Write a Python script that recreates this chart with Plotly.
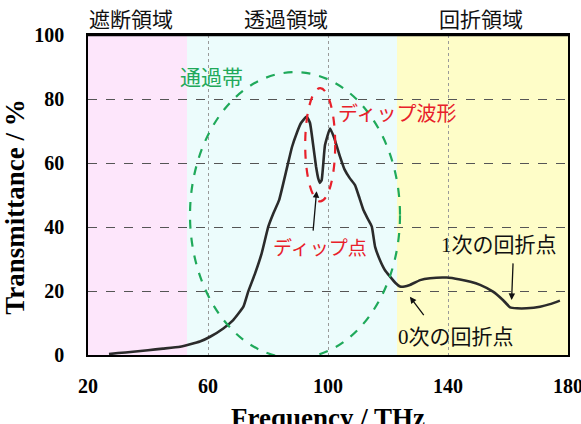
import plotly.graph_objects as go

# ---- data ----
freq = [27, 30, 35, 40, 45, 50.7, 57.3, 60.7, 65.1, 68.4, 71.8, 73.4, 75.7, 77.9, 80.1, 81.8, 83.7,
        86.2, 88, 89.6, 91, 92.9, 94, 95, 96, 96.8, 97.3, 97.9, 99, 100.7, 102, 104, 105.5, 107.3,
        109, 110.5, 111.8, 113.3, 114.6, 115.7, 117.3, 119, 120.7, 122.5, 124, 125.5, 127.3, 130.7,
        134, 139.6, 144, 147.5, 150.7, 155, 158.3, 160.7, 163, 166.2, 170.7, 174, 177.3]
trans = [0.3, 0.6, 1.0, 1.5, 2.0, 2.6, 4.2, 5.7, 8.3, 10.9, 15.1, 19.8, 25.5, 31.8, 40.1, 44.3, 48.4,
         58, 65, 69.4, 72.5, 74.5, 72.5, 66, 59, 55, 53.8, 54.7, 65.6, 70.8, 68, 62, 58, 55.2,
         53.1, 49, 45.3, 42.5, 40.1, 33.8, 29.7, 26.5, 24.5, 22.5, 21.4, 21.4, 21.9, 23.4,
         24.0, 24.2, 23.6, 22.9, 21.9, 19.8, 17.2, 14.9, 14.6, 14.6, 15.1, 15.9, 17]

x_ticks = [20, 60, 100, 140, 180]
y_ticks = [0, 20, 40, 60, 80, 100]

regions = [  # (start, end, label, colour)
    (20, 53, "遮断領域", "#FDE6FB"),
    (53, 123, "透過領域", "#ECFCFC"),
    (123, 180, "回折領域", "#FEFDC8"),
]
region_label_x = [34.3, 86, 150.9]

pass_band = dict(x0=54, x1=124, y0=-1, y1=88.4)
dip_band = dict(x0=92.4, x1=102.4, y0=48, y1=83.4)

serif = "Liberation Serif"
cjk = "Noto Sans CJK JP"
mixed = "Liberation Serif, Noto Sans CJK JP"

fig = go.Figure()
fig.add_trace(go.Scatter(x=freq, y=trans, mode="lines",
                         line=dict(color="#2b2b2b", width=2.6, shape="spline", smoothing=0.4),
                         showlegend=False, hoverinfo="skip"))

shapes = []
for (a, b, lab, col) in regions:
    shapes.append(dict(type="rect", xref="x", yref="y", x0=a, x1=b, y0=0, y1=100,
                       fillcolor=col, line=dict(width=0), layer="below"))
shapes.append(dict(type="circle", xref="x", yref="y", **pass_band,
                   line=dict(color="#1FA95A", width=2.2, dash="dash")))
shapes.append(dict(type="circle", xref="x", yref="y", **dip_band,
                   line=dict(color="#E8202A", width=2.2, dash="dash")))
shapes.append(dict(type="line", xref="paper", yref="paper", x0=0, x1=1, y0=1, y1=1,
                   line=dict(color="#000", width=2.5)))

ann = []
for (a, b, lab, col), lx in zip(regions, region_label_x):
    ann.append(dict(x=lx, y=1.053, xref="x", yref="paper", xanchor="center", yanchor="middle",
                    text=lab, showarrow=False, font=dict(family=cjk, size=21, color="#111")))

texts = [
    dict(x=61.2, y=87.2, text="通過帯", font=dict(family=cjk, size=21, color="#1FA95A")),
    dict(x=123, y=75.9, text="ディップ波形", font=dict(family=cjk, size=20, color="#E8202A")),
    dict(x=97.2, y=34, text="ディップ点", font=dict(family=cjk, size=19, color="#E8202A")),
    dict(x=157, y=34.4, text="1次の回折点", font=dict(family=mixed, size=21, color="#111")),
    dict(x=142.7, y=5.7, text="0次の回折点", font=dict(family=mixed, size=21, color="#111")),
]
for a in texts:
    a.update(xref="x", yref="y", showarrow=False, xanchor="center", yanchor="middle")
ann += texts

arrows = [  # (head x, head y, tail x, tail y)
    (96.2, 51.2, 95, 38.4),
    (161.2, 17.2, 161.7, 29.1),
    (127.3, 18.2, 132.3, 12),
]
for hx, hy, tx, ty in arrows:
    ann.append(dict(x=hx, y=hy, ax=tx, ay=ty, xref="x", yref="y", axref="x", ayref="y",
                    text="", showarrow=True, arrowhead=2, arrowsize=1, arrowwidth=1.3,
                    arrowcolor="#111"))

ann.append(dict(x=-0.152, y=0.46, xref="paper", yref="paper", xanchor="center", yanchor="middle",
                text="<b>Transmittance / %</b>", textangle=-90, showarrow=False,
                font=dict(family=serif, size=27, color="#000")))
ann.append(dict(x=100, y=-0.145, xref="x", yref="paper", xanchor="center", yanchor="top",
                text="<b>Frequency / THz</b>", showarrow=False,
                font=dict(family=serif, size=27, color="#000")))

fig.update_layout(
    width=581, height=424,
    margin=dict(l=88, r=13, t=35, b=69, autoexpand=False),
    paper_bgcolor="white", plot_bgcolor="white",
    shapes=shapes, annotations=ann,
    xaxis=dict(range=[20, 180], tickvals=x_ticks, showgrid=True, gridcolor="#9a9a9a",
               griddash="dot", gridwidth=1, zeroline=False, showline=True, linecolor="#000",
               linewidth=1.5, mirror=True, ticks="", ticklabelstandoff=12,
               ticklabeloverflow="allow", automargin=False,
               tickfont=dict(family=serif, size=20, color="#000", weight="bold")),
    yaxis=dict(range=[0, 100], tickvals=y_ticks, showgrid=True, gridcolor="#555",
               griddash="dash", gridwidth=1, zeroline=False, showline=True, linecolor="#000",
               linewidth=1.5, mirror=True, ticks="", ticklabelstandoff=18,
               ticklabeloverflow="allow", automargin=False,
               tickfont=dict(family=serif, size=20, color="#000", weight="bold")),
)

fig.write_html("out.html")
